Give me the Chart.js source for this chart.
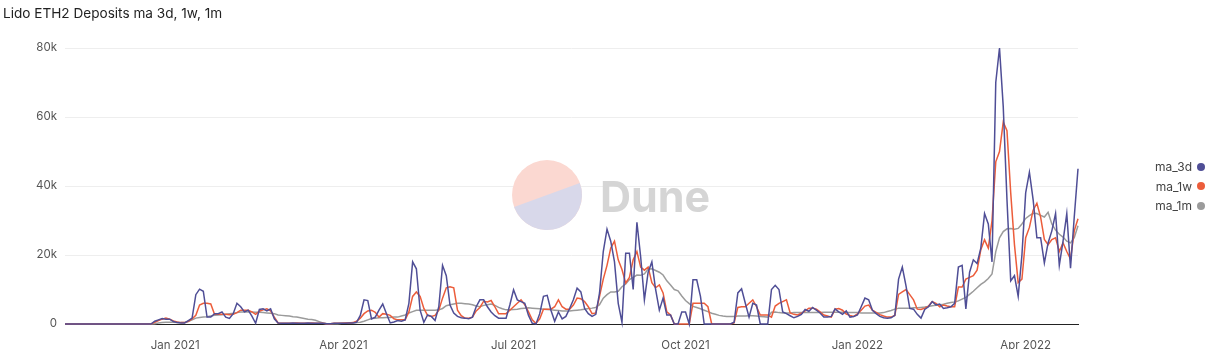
<!DOCTYPE html>
<html>
<head>
<meta charset="utf-8">
<script src="https://cdn.jsdelivr.net/npm/chart.js@4.4.1/dist/chart.umd.min.js"></script>
<style>
  body { margin: 0; background: #fff; font-family: Inter, sans-serif; }
  #wrap { position: relative; width: 1211px; height: 349px; }
  #title { position: absolute; left: 3px; top: 5px; font-size: 13.6px; color: #222; }
  #legend { position: absolute; right: 6px; top: 157px; font-size: 12px; color: #444; }
  .item { display: flex; align-items: center; justify-content: flex-end; height: 19.5px; }
  .dot { width: 8px; height: 8px; border-radius: 50%; margin-left: 5px; }
</style>
</head>
<body>
<div id="wrap">
  <canvas id="chart" width="1211" height="349"></canvas>
  <div id="title">Lido ETH2 Deposits ma 3d, 1w, 1m</div>
  <div id="legend"></div>
</div>
<script>
// first row is the empty period before deposits, then one value every 2 days
const firstDate = '2020-11-03';
const sampleStart = '2020-12-13';
const sampleStepDays = 2;

const ma3d = [0,
  0,0,0,0,0.8,1.2,1.6,1.4,1.4,0.7,
  0.4,0.3,0.3,1.0,1.7,8.5,10.1,9.5,2,2,
  3.0,3.0,3.5,2,1.6,3,6,5,3.5,4,
  2.3,0.2,4.2,4.4,3.8,4.4,1.5,0.3,0.2,0.2,
  0.2,0.3,0.2,0.2,0.2,0.3,0.2,0.2,0.2,0.2,
  0.1,0.1,0.2,0.2,0.2,0.2,0.3,0.3,0.5,2.5,
  7,6.8,1.5,2,4,5.8,3,0.3,0.6,1,
  0.8,1.2,6,18,16,4,0.5,2.6,2.2,1,
  5,17,14,5.5,3.2,2.2,1.8,1.7,1.5,2,
  5,7,7,5,3.5,2.4,1.7,1.7,1.7,5.5,
  9.9,7,6.5,6,2.5,0.2,0,3,8,8.3,
  4,0.8,3.5,1.5,2.2,4.5,7,10.4,9.3,4.5,
  3,2.2,2.8,9,21,27.5,24,18,6,0.5,
  20.5,20.5,10,29.5,19.5,7,15,18,10,4,
  7.5,2.6,2.6,0,0,3.5,3.5,0,12.8,12.8,
  8,0,0,0,0,0,0,0,0,0.5,
  9,10.2,6,2,6,5.5,0,0,0,10,
  11.2,10,3.5,3,2.4,1.8,2.2,2.8,4.2,3.7,
  4.8,4,3.2,2,2,2.2,4.4,3.5,2.8,3.8,
  2,2.2,2.6,5,7.5,7,4,3,2.2,1.8,
  1.7,1.8,2.5,13,16.5,11,4.5,4.3,2.8,1.7,
  4.2,5,6.5,5.5,5.8,4.5,4.7,5,6,16.5,
  17,4.4,15,18.6,17.5,22,32,29,18,70,
  80,63,36,12.5,14,8,20,38,44,36,
  25,25,17.7,23.5,27,32,17,24,32,16.2,
  31,45];

const ma1w = [0,
  0,0,0,0,0.5,1.0,1.4,1.7,1.4,0.9,
  0.6,0.4,0.4,0.8,1.5,2.5,5.5,6,6,5.8,
  2.8,2.8,2.8,2.8,2.7,2.8,3.3,4,4,4,
  3.5,2.8,3.7,4.1,4.4,3.8,2,0.3,0.2,0.2,
  0.2,0.2,0.3,0.2,0.2,0.2,0.3,0.2,0.2,0.2,
  0.1,0.1,0.2,0.2,0.2,0.3,0.3,0.4,0.8,1.7,
  3,3.8,4,3.4,2,3,2.8,2.5,1.5,1.2,
  1.2,1.2,3.5,8,9.3,8,4.5,2.5,2.2,2.5,
  4,7.5,10.5,10.8,10.5,4,2.4,1.7,1.7,2,
  3.8,4.8,6.6,6.4,6.8,5,3,3,3,4,
  5,6,7,5.6,3.5,1.2,0.2,1.5,4.3,4.3,
  4.3,5,7,5,4.3,4.3,5.5,7.5,7.3,6.5,
  5,3,3.2,8,13,17,22,24,18.6,15.8,
  11.9,13.5,18.6,21,16.5,15.6,16.5,12,10.5,11.3,
  9,3.5,2.6,0,0,0,0,0,6,6,
  6,6,5,0,0,0,0,0,0,0.3,
  4.8,5,5,6,7,5,2.6,2.6,2.6,2,
  5.2,6,6.5,7,3.2,2.8,2.6,3.1,3.8,4.6,
  4.6,4.3,3.5,2.6,2.3,2,4.3,4.5,4,2.9,
  2.5,2.2,2.9,4,5.2,5.5,4,3.4,2.7,2.3,
  2,2,2.5,8.6,9.3,10,8.5,7,4.3,4.2,
  4.6,5.2,6.5,6,5,5.5,5.2,5,5,10.7,
  10.7,13,13.5,14,15.6,21.5,24.4,22,30,47,
  50,58.5,56,38,23,12,13,25,28,33,
  35,31,24.5,23,24.5,25,21,23.5,21,18.8,
  27,30.5];

const ma1m = [0,
  0,0,0,0,0.1,0.3,0.4,0.5,0.5,0.5,
  0.4,0.4,0.4,0.7,1.2,1.7,1.9,2.0,2.1,2.3,
  2.5,2.6,2.7,2.8,3.0,3.1,3.3,3.5,3.5,3.5,
  3.5,3.4,3.4,3.3,3.2,3.1,3.0,2.6,2.5,2.4,
  2.3,2.1,2.0,1.8,1.6,1.4,1.3,1.1,0.7,0.3,
  0.1,0.1,0.1,0.1,0.2,0.2,0.3,0.3,0.4,0.5,
  0.8,1.2,1.6,1.7,1.8,1.8,1.9,1.9,2,2,
  2.3,2.6,3.2,3.6,4,4,4,4,4,4,
  4.1,4.5,5.3,5.6,5.8,6,6,5.9,5.8,5.6,
  5.2,5,5.4,5.6,5.8,5.4,4.8,4.4,4.1,4.1,
  4.2,4.3,4.5,4.6,4.7,4.6,4.5,4.4,4.3,4.2,
  4.1,4,3.9,3.8,3.8,3.8,3.9,4,4.1,4.3,
  4.5,4.6,4.8,5.6,7.5,8.5,9.3,9.3,9.5,10.8,
  11.6,12.9,13.5,14.2,14.1,14.5,15.9,16,15.5,15,
  14.2,12.5,11.3,10,9.6,8.1,6.8,5.9,5.1,4.8,
  4.4,4,3.6,3.1,2.8,2.5,2.3,2.2,2.2,2.2,
  2.3,2.3,2.3,2.4,2.4,2.3,2.2,2.1,2,3.4,
  3.5,3.3,3.2,3.2,3.2,3.3,3.3,3.3,3.3,3.3,
  3.3,3.3,3.3,3.4,3.4,3.4,3.4,3.4,3.4,3.3,
  3.3,3.3,3.3,3.2,3.2,3.2,3.2,3.2,3.2,3.3,
  3.6,3.9,4.3,4.6,4.6,4.6,4.6,4.7,4.7,4.8,
  4.9,5.1,5.3,5.4,5.5,5.7,6,6.2,6.4,6.7,
  7.2,7.7,8.6,9.5,10.5,11.5,12.2,13.2,14.5,21,
  25,26.8,27.6,27.7,27.5,27.7,29,30.6,31.4,32.1,
  32,31.5,31,32.4,29,27.2,26,25.2,24,23.5,
  25,28.5];

const tickDates = ['2021-01-01', '2021-04-01', '2021-07-01', '2021-10-01', '2022-01-01', '2022-04-01'];
const tickLabels = ['Jan 2021', 'Apr 2021', 'Jul 2021', 'Oct 2021', 'Jan 2022', 'Apr 2022'];
const lastDate = '2022-04-29';

const seriesNames = ['ma_3d', 'ma_1w', 'ma_1m'];
const seriesColors = ['#4f4e96', '#ec5d3b', '#9b9b9b'];

// day number relative to Jan 1 2021
function dayOf(s) {
  return (Date.parse(s) - Date.parse('2021-01-01')) / 86400000;
}

const days = [dayOf(firstDate)];
for (let i = 1; i < ma3d.length; i++) {
  days.push(dayOf(sampleStart) + (i - 1) * sampleStepDays);
}

function toPoints(vals) {
  return vals.map((v, i) => ({ x: days[i], y: v * 1000 }));
}

// Dune logo behind the lines
const watermark = {
  id: 'watermark',
  beforeDatasetsDraw(chart) {
    const c = chart.ctx;
    c.save();
    c.beginPath();
    c.arc(547, 195, 35, 0, Math.PI * 2);
    c.fillStyle = '#fbd8d1';
    c.fill();
    c.beginPath();
    c.arc(547, 195, 35, -20 * Math.PI / 180, 160 * Math.PI / 180);
    c.closePath();
    c.fillStyle = '#d8d8ea';
    c.fill();
    c.font = 'bold 43px Inter';
    c.fillStyle = '#d5d5d5';
    c.fillText('Dune', 600, 212);
    c.restore();
  }
};

Chart.defaults.font.family = 'Inter, sans-serif';

const ctx = document.getElementById('chart').getContext('2d');
new Chart(ctx, {
  type: 'line',
  data: {
    datasets: [ma3d, ma1w, ma1m].map((vals, i) => ({
      label: seriesNames[i],
      data: toPoints(vals),
      borderColor: seriesColors[i],
      borderWidth: 1.5,
      pointRadius: 0,
      tension: 0,
      clip: false
    }))
  },
  options: {
    responsive: false,
    animation: false,
    layout: { padding: { top: 48, right: 133, left: 0, bottom: 0 } },
    plugins: {
      legend: { display: false },
      tooltip: { enabled: false }
    },
    scales: {
      x: {
        type: 'linear',
        min: dayOf(firstDate),
        max: dayOf(lastDate),
        grid: { display: false },
        border: { display: true, color: '#222', width: 1 },
        afterBuildTicks: s => { s.ticks = tickDates.map(d => ({ value: dayOf(d) })); },
        afterFit: s => { s.height = 25; },
        ticks: {
          callback: (v, i) => tickLabels[i],
          color: '#555',
          font: { size: 11.5 },
          padding: 7,
          maxRotation: 0,
          autoSkip: false
        }
      },
      y: {
        min: 0,
        max: 80000,
        afterFit: s => { s.width = 65; },
        grid: { color: '#eeeeee', drawTicks: false },
        border: { display: false },
        ticks: {
          stepSize: 20000,
          callback: v => v === 0 ? '0' : (v / 1000) + 'k',
          color: '#555',
          font: { size: 11.5 },
          padding: 8
        }
      }
    }
  },
  plugins: [watermark]
});

// legend: text first, dot on the right
const legend = document.getElementById('legend');
seriesNames.forEach((name, i) => {
  const item = document.createElement('div');
  item.className = 'item';
  item.innerHTML = '<span>' + name + '</span><span class="dot" style="background:' + seriesColors[i] + '"></span>';
  legend.appendChild(item);
});
</script>
</body>
</html>
